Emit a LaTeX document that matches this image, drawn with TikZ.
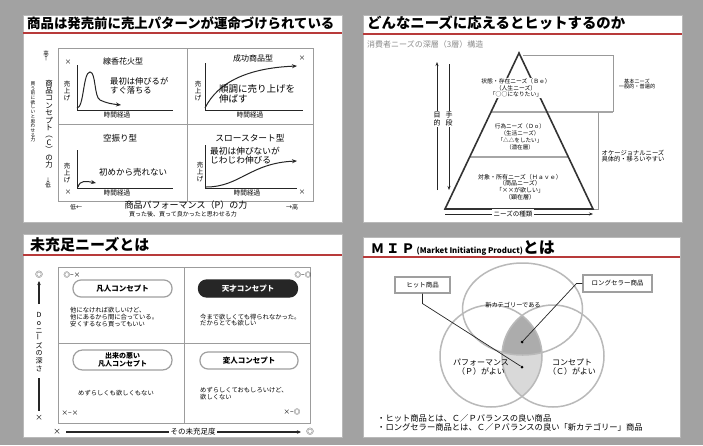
\documentclass[tikz,border=0pt]{standalone}
\usepackage{fontspec}
\setmainfont{Noto Sans CJK JP}
\usepackage{graphicx}
\usetikzlibrary{arrows.meta,calc}
\definecolor{bggray}{HTML}{A2A2A2}
\definecolor{redl}{HTML}{B83A3A}
\definecolor{framegray}{HTML}{9C9C9C}
\newcommand\tatebar{\rotatebox{90}{ー}}
\begin{document}
\begin{tikzpicture}[x=1pt,y=-1pt,
  fs/.style args={#1/#2}{font=\fontsize{#1}{#2}\selectfont},
  txt/.style={inner sep=0},
  ttl/.style={anchor=west, inner sep=0, font=\bfseries\fontsize{#1}{#1}\selectfont},
  redline/.style={draw=redl, line width=1.6},
  slide/.style={fill=white, draw=gray!55, line width=0.6},
  frame/.style={draw=framegray, line width=0.7},
  axis/.style={draw=black!85, line width=0.7},
  curve/.style={draw=black!85, line width=1, -{Stealth[length=5pt,width=4pt]}},
  vstack/.style={inner sep=0, align=center},
  pyr/.style={draw=black!80, line width=1.6},
  div/.style={draw=gray!70, line width=1.3},
  brk/.style={draw=gray!80, line width=0.6},
  pill/.style={draw=gray!75, line width=1.2, rounded corners=8pt, minimum width=99pt, minimum height=17pt, inner sep=0, font=\bfseries\fontsize{7.5}{8.5}\selectfont, align=center, fill=white},
  lab/.style={draw=gray!75, line width=1.1, fill=white, inner sep=0, font=\fontsize{6.5}{6.5}\selectfont},
  vcirc/.style={draw=gray!55, line width=1.5},
  dot/.style={circle, fill=black, inner sep=0, minimum size=3pt},
  conn/.style={draw=black!85, line width=0.7}
]
\fill[bggray] (0,0) rectangle (703,445);
\useasboundingbox (0,0) rectangle (703,445);

% ================= Panel 1 =================
\fill[slide] (23,15) rectangle (342,222);
\node[ttl=13.4] (t1) at (27,23) {商品は発売前に売上パターンが運命づけられている};
\draw[redline] (23,33) -- (342,33);
\draw[frame] (58,48) rectangle (313,201);
\draw[frame] (187,48) -- (187,201);
\draw[frame] (58,124) -- (313,124);

% quadrant TL
\node[txt, fs=6.5/6.5] (m1) at (68,62) {×};
\node[txt, fs=8/8] (q1) at (123,61) {線香花火型};
\draw[axis] (77,65) -- (77,110) -- (173,110);
\node[vstack, fs=6.5/6.8] (u1) at (67,91) {売\\上\\げ};
\draw[curve] (77,108) .. controls (84,108) and (83,72) .. (90,72) .. controls (96,72) and (94,97) .. (100,100) .. controls (106,103) and (112,104) .. (121,105);
\node[txt, fs=8.3/8.6, align=left, anchor=west] (d1) at (110,86) {最初は伸びるが\\すぐ落ちる};
\node[txt, fs=6.7/6.7] (h1) at (117,115) {時間経過};

% quadrant TR
\node[txt, fs=8/8] (q2) at (253,58) {成功商品型};
\node[txt, fs=6.5/6.5] (m2) at (302,58) {×};
\draw[axis] (205,63) -- (205,110) -- (303,110);
\node[vstack, fs=6.5/6.8] (u2) at (198,91) {売\\上\\げ};
\draw[curve] (205,108) .. controls (218,82) and (248,68) .. (297,66);
\node[txt, fs=9.5/8.6, align=left, anchor=west] (d2) at (219,94) {順調に売り上げを\\伸ばす};
\node[txt, fs=6.7/6.7] (h2) at (250,115) {時間経過};

% quadrant BL
\node[txt, fs=8.5/8.5] (q3) at (120,138) {空振り型};
\draw[axis] (77,150) -- (77,188) -- (173,188);
\node[vstack, fs=6.5/6.8] (u3) at (67,173) {売\\上\\げ};
\draw[curve] (78,187) .. controls (80,180) and (86,181) .. (96,183);
\node[txt, fs=8.5/8.5] (d3) at (133,172) {初めから売れない};
\node[txt, fs=6.5/6.5] (m3) at (68,192) {×};
\node[txt, fs=6.7/6.7] (h3) at (117,193) {時間経過};

% quadrant BR
\node[txt, fs=8.7/8.7] (q4) at (250,138) {スロースタート型};
\draw[axis] (205,145) -- (205,188) -- (297,188);
\node[vstack, fs=6.5/6.8] (u4) at (200,172) {売\\上\\げ};
\draw[curve] (206,187) .. controls (240,187) and (250,163) .. (297,161);
\node[txt, fs=8.7/7.5, align=left, anchor=west] (d4) at (210,156) {最初は伸びないが\\じわじわ伸びる};
\node[txt, fs=6.7/6.7] (h4) at (247,193) {時間経過};
\node[txt, fs=6.5/6.5] (m4) at (302,192) {×};

% axis labels
\node[txt, fs=6/6] (lo1) at (76,207) {低←};
\node[txt, fs=9/9] (xp) at (186,205) {商品パフォーマンス（P）の力};
\node[txt, fs=6/6] (hi1) at (292,207) {→高};
\node[txt, fs=6/6] (xps) at (183,214) {買った後、買って良かったと思わせる力};
\node[vstack, fs=5.5/5.5] (hi2) at (46,56) {高\\↑};
\node[vstack, fs=7.5/7.4] (yc) at (49,124) {商\\品\\コ\\ン\\セ\\プ\\ト\\︵\\C\\︶\\の\\力};
\node[vstack, fs=5.5/5.5] (lo2) at (48,183) {↓\\低};
\node[vstack, fs=4.7/4.7] (ycs) at (33,112) {買\\う\\前\\に\\欲\\し\\い\\と\\思\\わ\\せ\\る\\力};

% ================= Panel 2 =================
\fill[slide] (363,15) rectangle (682,222);
\node[ttl=14.4] (t2) at (367,23) {どんなニーズに応えるとヒットするのか};
\draw[redline] (363,34) -- (682,34);
\node[txt, fs=8/8, anchor=west, text=gray!90] (sub2) at (367,44) {消費者ニーズの深層（3層）構造};

\coordinate (apex) at (519,53);
\coordinate (pbl) at (445,209);
\coordinate (pbr) at (593,209);
\draw[brk] (523,55) -- (613,55) -- (613,112);
\draw[div] (491,112) -- (613,112);
\draw[brk] (598,112) -- (598,209) -- (pbr);
\draw[div] (470,157) -- (568,157);
\draw[pyr] (pbl) -- (apex) -- (pbr) -- cycle;

\node[fill=white, inner sep=1pt, fs=5.8/6.6, align=center] (be) at (516,88) {状態・存在ニーズ（Ｂｅ）\\（人生ニーズ）\\「○○になりたい」};
\node[txt, fs=5.6/7, align=center] (do) at (520,136.5) {行為ニーズ（Ｄｏ）\\（生活ニーズ）\\「△△をしたい」\\（潜在層）};
\node[txt, fs=6/6.7, align=center] (hv) at (520,187) {対象・所有ニーズ（Ｈａｖｅ）\\（商品ニーズ）\\「××が欲しい」\\（顕在層）};
\node[txt, fs=5.2/5.6, align=center] (kn) at (637,84) {基本ニーズ\\一般的・普遍的};
\node[txt, fs=6.3/6.5, align=center] (on) at (633,156) {オケージョナルニーズ\\具体的・移ろいやすい};

\coordinate (a1t) at (437,62);
\coordinate (a1b) at (437,190);
\coordinate (a2t) at (449,64);
\coordinate (a2b) at (449,190);
\draw[axis, -{Stealth[length=4pt,width=3pt]}] (a1b) -- (a1t);
\draw[axis, -{Stealth[length=4pt,width=3pt]}] (a2t) -- (a2b);
\node[vstack, fill=white, inner sep=1pt, fs=7/8] (mk) at (437,119) {目\\的};
\node[vstack, fill=white, inner sep=1pt, fs=7/8] (sd) at (449,119) {手\\段};

\coordinate (nl) at (445,214);
\coordinate (nr) at (593,214);
\draw[axis, -{Stealth[length=4pt,width=3pt]}] (nl) -- (nr);
\node[fill=white, inner sep=1.5pt, fs=6.5/6.5] (ns) at (513,214) {ニーズの種類};

% ================= Panel 3 =================
\fill[slide] (23,234) rectangle (342,437);
\node[ttl=15] (t3) at (30,245) {未充足ニーズとは};
\draw[redline] (23,255) -- (342,255);
\draw[frame] (58,267) rectangle (310,423);
\draw[frame] (184,267) -- (184,423);
\draw[frame] (58,343) -- (310,343);

\node[txt, fs=7.5/7.5] (ytop) at (39,275) {◎};
\coordinate (yat) at (39,281);
\coordinate (yab) at (39,304);
\draw[axis, line width=1.2, -{Stealth[length=4pt,width=3.5pt]}] (yab) -- (yat);
\node[vstack, fs=7/7.6] (yl) at (39,342) {D\\o\\ニ\\\tatebar\\ズ\\の\\深\\さ};
\coordinate (ylt) at (39,378);
\coordinate (ylb) at (39,411);
\draw[axis, line width=1.2] (ylt) -- (ylb);
\node[txt, fs=7.5/7.5] (ybot) at (39,418) {×};

\node[txt, fs=7.5/7.5] (xl) at (57,432) {×};
\coordinate (xas) at (66,432);
\coordinate (xae) at (301,432);
\draw[axis, line width=1.2, -{Stealth[length=4pt,width=3.5pt]}] (xas) -- (xae);
\node[fill=white, inner sep=1.5pt, fs=7.5/7.5] (xlab) at (193,432) {その未充足度};
\node[txt, fs=7.5/7.5] (xr) at (310,432) {◎};

\node[txt, fs=6.5/6.5] (c1) at (72,275) {◎−×};
\node[pill] (p1) at (122.5,288.5) {凡人コンセプト};
\node[txt, fs=6.3/6.7, align=left, anchor=west] (e1) at (70,317) {他になければ欲しいけど、\\他にあるから間に合っている。\\安くするなら買ってもいい};

\node[txt, fs=6.5/6.5] (c2) at (303,275) {◎−◎};
\node[pill, fill=black!85, draw=black!85, text=white] (p2) at (248,288.5) {天才コンセプト};
\node[txt, fs=6.3/6.7, align=left, anchor=west] (e2) at (200,320) {今まで欲しくても得られなかった。\\だからとても欲しい};

\node[pill, minimum height=20pt, rounded corners=9.5pt, font=\bfseries\fontsize{7}{7.6}\selectfont] (p3) at (122.5,360) {出来の悪い\\凡人コンセプト};
\node[txt, fs=6.3/6.3] (e3) at (116,393) {めずらしくも欲しくもない};
\node[txt, fs=6.5/6.5] (c3) at (70,413) {×−×};

\node[pill, minimum width=98pt] (p4) at (249,360.5) {変人コンセプト};
\node[txt, fs=6.3/6.7, align=left, anchor=west] (e4) at (200,393.5) {めずらしくておもしろいけど、\\欲しくない};
\node[txt, fs=6.5/6.5] (c4) at (292,412) {×−◎};

% ================= Panel 4 =================
\fill[slide] (363,237) rectangle (680,437);
\node[anchor=west, inner sep=0] (t4) at (371,248) {\bfseries\fontsize{13}{13}\selectfont Ｍ\,Ｉ\,Ｐ\,{\fontsize{7.8}{7.8}\selectfont(Market Initiating Product)}{\fontsize{16}{16}\selectfont とは}};
\draw[redline] (363,257) -- (680,257);

\coordinate (ct) at (522.5,309);
\coordinate (cl) at (491,356);
\coordinate (cr) at (553,356);
\begin{scope}
  \clip (cl) circle (51);
  \clip (cr) circle (51);
  \fill[gray!30] (cl) circle (51);
  \fill[gray!65] (ct) ellipse [x radius=60, y radius=46];
\end{scope}
\draw[vcirc] (ct) ellipse [x radius=60, y radius=46];
\draw[vcirc] (cl) circle (51);
\draw[vcirc] (cr) circle (51);

\node[txt, fs=6.2/6.2] (nc) at (513,305) {新カテゴリーである};
\node[txt, fs=8/9, align=center] (pp) at (481,367.5) {パフォーマンス\\（Ｐ）がよい};
\node[txt, fs=8/9, align=center] (cc) at (572,367.5) {コンセプト\\（Ｃ）がよい};

\node[lab, minimum width=55pt, minimum height=16pt] (hit) at (422.5,285) {ヒット商品};
\node[lab, minimum width=69pt, minimum height=17pt] (long) at (617.5,283.5) {ロングセラー商品};
\node[dot] (dd) at (522,342) {};
\node[dot] (dl) at (522,367) {};
\draw[conn] (hit.south) -- ($(hit.south)+(0,10)$) -- (dl);
\draw[conn] (long.west) -- ($(long.west)+(-6,0)$) -- (dd);

\node[txt, fs=8.3/8.6, align=left, anchor=west] (bul) at (377,423) {・ヒット商品とは、Ｃ／Ｐバランスの良い商品\\・ロングセラー商品とは、Ｃ／Ｐバランスの良い「新カテゴリー」商品};
\end{tikzpicture}
\end{document}
